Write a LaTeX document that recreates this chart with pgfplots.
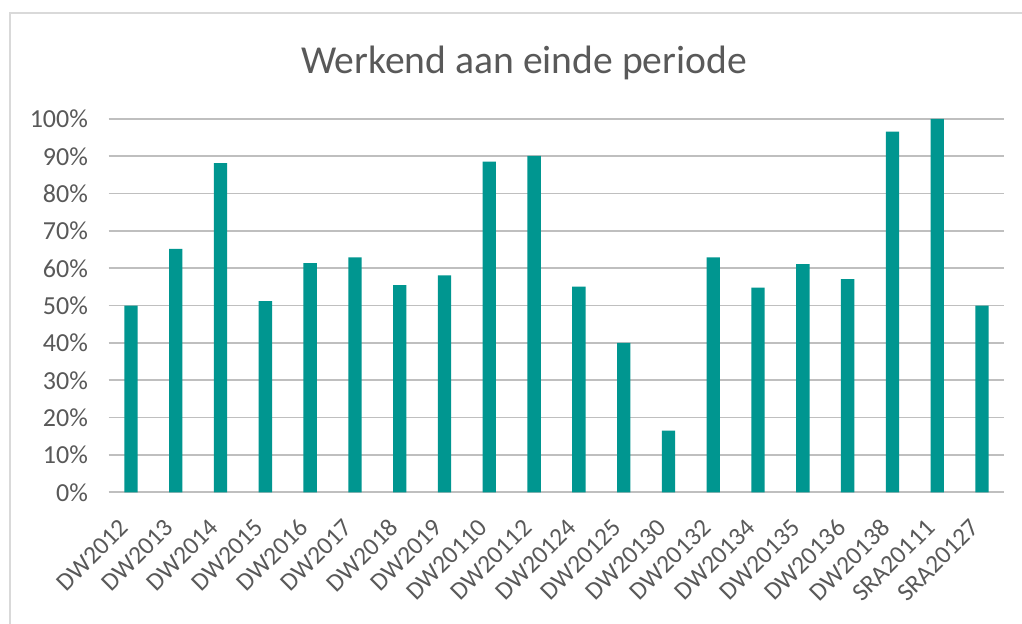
\documentclass[border=0pt]{standalone}
\usepackage{pgfplots}
\pgfplotsset{compat=1.18}
\usepackage{fontspec}
\setmainfont{Carlito}
\definecolor{bar}{HTML}{009690}
\definecolor{txt}{HTML}{595959}
\definecolor{grid}{HTML}{D9D9D9}
\begin{document}
\begin{tikzpicture}
\path[use as bounding box, fill=white] (0,0) rectangle (766.5pt,468pt);
\draw[grid, line width=1.1pt] (7.5pt,0) -- (7.5pt,458.25pt) -- (766.5pt,458.25pt);
\node[txt, font=\fontsize{29.7}{34}\selectfont] at (393pt,421pt) {Werkend aan einde periode};
\begin{axis}[
  at={(81.45pt,98.775pt)}, anchor=south west,
  scale only axis, width=671.85pt, height=280pt,
  xmin=-0.5, xmax=19.5, ymin=0, ymax=100,
  axis line style={draw=none},
  ymajorgrids, xmajorgrids=false, grid style={grid, line width=1.2pt},
  tick style={draw=none},
  ytick={0,10,...,100},
  yticklabel={\pgfmathprintnumber{\tick}\%},
  major tick length=0pt,
  tick label style={txt, font=\fontsize{19.5}{23}\selectfont},
  /pgf/number format/assume math mode=true,
  yticklabel style={xshift=-12pt},
  xtick={0,...,19},
  xticklabels={DW2012,DW2013,DW2014,DW2015,DW2016,DW2017,DW2018,DW2019,DW20110,DW20112,DW20124,DW20125,DW20130,DW20132,DW20134,DW20135,DW20136,DW20138,SRA20111,SRA20127},
  xticklabel style={xshift=-9.5pt, yshift=-14pt, rotate=45, anchor=north east, font=\fontsize{19}{23}\selectfont},
  clip=false,
]
\addplot[ybar, bar width=10pt, fill=bar, draw=none] coordinates {
(0,50) (1,65.2) (2,88.2) (3,51.2) (4,61.4) (5,62.9) (6,55.5) (7,58.1) (8,88.6) (9,90.1)
(10,55.1) (11,40) (12,16.5) (13,62.9) (14,54.8) (15,61.1) (16,57.1) (17,96.6) (18,100) (19,50)
};
\end{axis}
\end{tikzpicture}
\end{document}
